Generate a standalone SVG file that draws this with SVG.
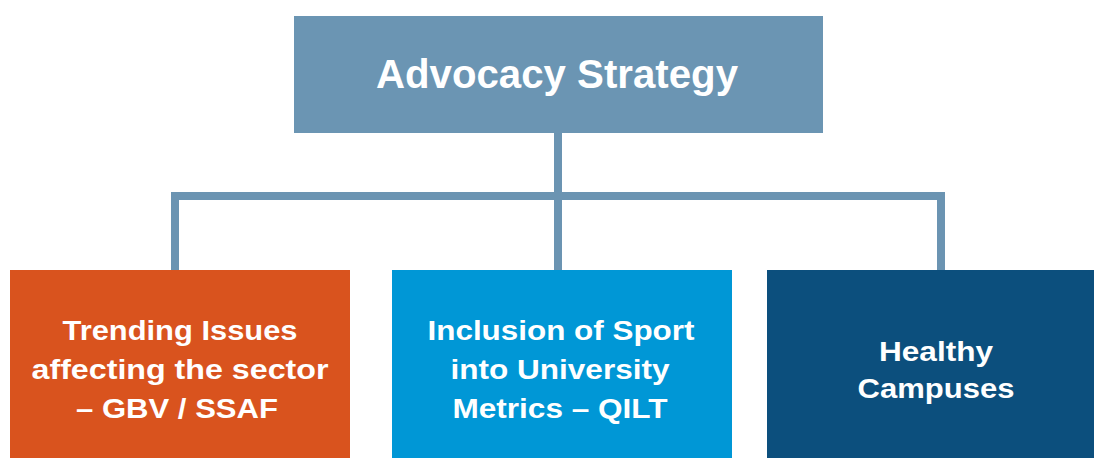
<svg xmlns="http://www.w3.org/2000/svg" width="1094" height="458" viewBox="0 0 1094 458">
<style>
.t{font-family:"Liberation Sans",Arial,sans-serif;font-weight:bold;fill:#ffffff;text-anchor:middle}
.title{font-size:40px}
.lbl{font-size:28px}
.conn{fill:none;stroke:#6b94b2;stroke-width:8}
</style>
<rect width="1094" height="458" fill="#ffffff"/>
<g id="connectors">
<path class="conn" d="M558 133 V270"/>
<path class="conn" d="M175 270 V196 H941 V270"/>
</g>
<g id="node-root">
<rect x="294" y="16" width="529" height="117" fill="#6b95b3"/>
<text class="t title" x="557" y="88" textLength="362" lengthAdjust="spacingAndGlyphs">Advocacy Strategy</text>
</g>
<g id="node-trending">
<rect x="10" y="270" width="340" height="188" fill="#d9531e"/>
<text class="t lbl" x="180" y="340" textLength="235" lengthAdjust="spacingAndGlyphs">Trending Issues</text>
<text class="t lbl" x="180" y="379" textLength="297" lengthAdjust="spacingAndGlyphs">affecting the sector</text>
<text class="t lbl" x="177" y="418" textLength="202" lengthAdjust="spacingAndGlyphs">– GBV / SSAF</text>
</g>
<g id="node-inclusion">
<rect x="392" y="270" width="340" height="188" fill="#0097d6"/>
<text class="t lbl" x="561" y="340" textLength="267" lengthAdjust="spacingAndGlyphs">Inclusion of Sport</text>
<text class="t lbl" x="560" y="379" textLength="219" lengthAdjust="spacingAndGlyphs">into University</text>
<text class="t lbl" x="560" y="418" textLength="215" lengthAdjust="spacingAndGlyphs">Metrics – QILT</text>
</g>
<g id="node-healthy">
<rect x="767" y="270" width="327" height="188" fill="#0c4f7d"/>
<text class="t lbl" x="936" y="361" textLength="114" lengthAdjust="spacingAndGlyphs">Healthy</text>
<text class="t lbl" x="936" y="398" textLength="157" lengthAdjust="spacingAndGlyphs">Campuses</text>
</g>
</svg>
